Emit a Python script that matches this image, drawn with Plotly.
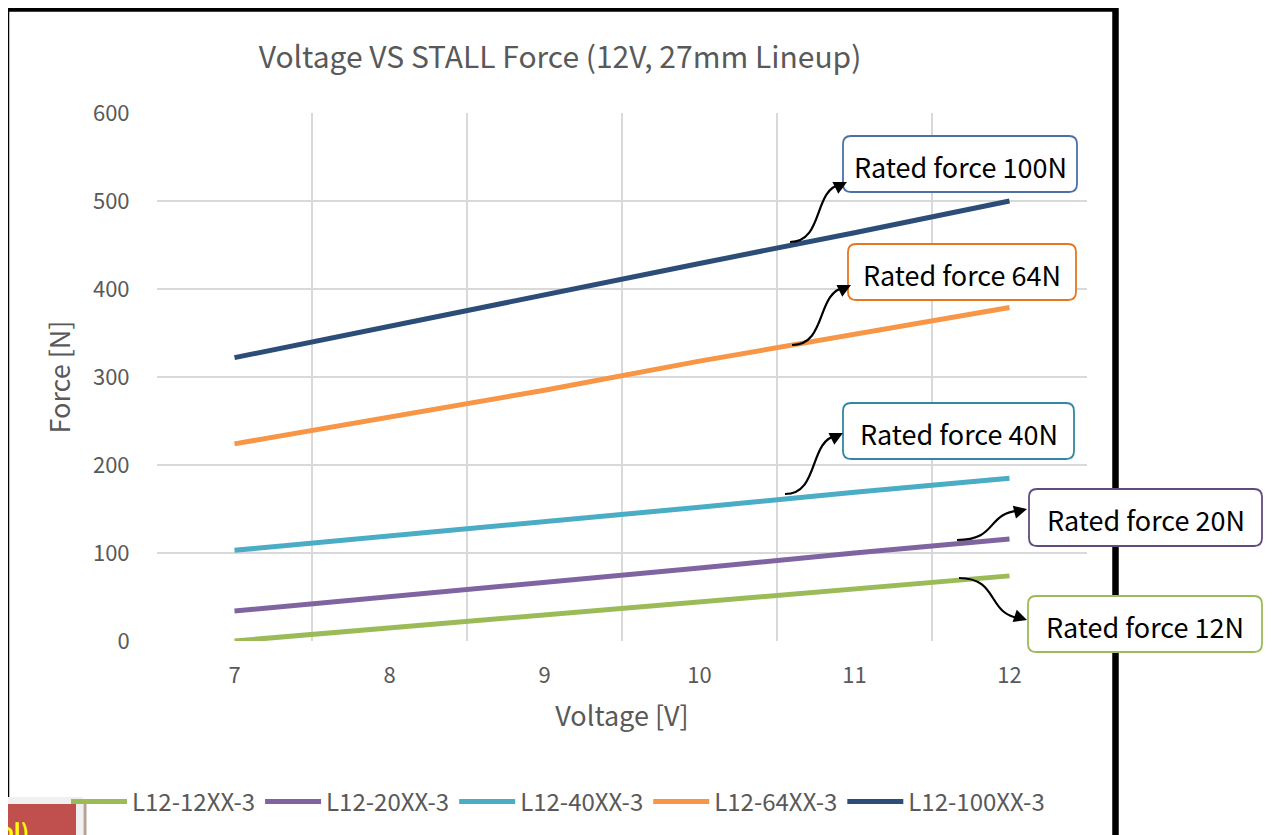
import plotly.graph_objects as go

# ---------------- data ----------------
voltage = [7, 8, 9, 10, 11, 12]
force_12 = [0, 15, 30, 44, 59, 74]
force_20 = [34, 50, 67, 83, 100, 116]
force_40 = [103, 119, 136, 152, 169, 185]
force_64 = [224, 254, 285, 318, 349, 379]
force_100 = [322, 358, 393, 429, 464, 500]

series_names = ["L12-12XX-3", "L12-20XX-3", "L12-40XX-3", "L12-64XX-3", "L12-100XX-3"]
series_values = [force_12, force_20, force_40, force_64, force_100]
series_colors = ["#9BBB59", "#8064A2", "#4BACC6", "#F79646", "#2C4D78"]

rated_labels = ["Rated force 100N", "Rated force 64N", "Rated force 40N", "Rated force 20N", "Rated force 12N"]
rated_colors = ["#4A70A6", "#E8761E", "#31889F", "#5F4B7E", "#9BBB59"]

y_ticks = [0, 100, 200, 300, 400, 500, 600]

FONT = "Noto Sans CJK KR"
GRAY = "#595959"

OFF = 8  # page body margin
W, H = 1272 - OFF, 835 - OFF
# plot area in page pixels
L, R, T, B = 157, 1087, 113, 641


def px(x):
    return (x - L) / (R - L)


def py(y):
    return (B - y) / (B - T)


fig = go.Figure()
for name, vals, col in zip(series_names, series_values, series_colors):
    fig.add_trace(go.Scatter(
        x=voltage, y=vals, name=name, mode="lines",
        line=dict(color=col, width=5), cliponaxis=False,
    ))

shapes = []
annotations = []

# outer black frame
shapes.append(dict(type="rect", xref="paper", yref="paper",
                   x0=px(6), x1=px(1115.5), y0=py(900), y1=py(8.5),
                   line=dict(color="black", width=6.5), layer="above"))

# rated-force boxes (page pixel geometry)
boxes = [
    (843, 136, 1077, 192),
    (848, 244, 1076, 300),
    (843, 403, 1074, 459),
    (1029, 489, 1262, 546),
    (1028, 596, 1262, 652),
]
arrows = [
    ((790, 242), (847, 182)),
    ((792, 345), (851, 285)),
    ((785, 494), (843, 433)),
    ((957, 540), (1027, 509)),
    ((959, 578), (1027, 620)),
]


def rounded_path(x0, y0, x1, y1, r=8):
    pts = [
        ("M", [(x0 + r, y0)]), ("L", [(x1 - r, y0)]), ("Q", [(x1, y0), (x1, y0 + r)]),
        ("L", [(x1, y1 - r)]), ("Q", [(x1, y1), (x1 - r, y1)]),
        ("L", [(x0 + r, y1)]), ("Q", [(x0, y1), (x0, y1 - r)]),
        ("L", [(x0, y0 + r)]), ("Q", [(x0, y0), (x0 + r, y0)]),
    ]
    s = ""
    for cmd, ps in pts:
        s += cmd + " ".join(f"{px(a):.5f},{py(b):.5f}" for a, b in ps) + " "
    return s + "Z"


for (bx0, by0, bx1, by1), col, lab in zip(boxes, rated_colors, rated_labels):
    shapes.append(dict(type="path", xref="paper", yref="paper",
                       path=rounded_path(bx0, by0, bx1, by1),
                       fillcolor="white", line=dict(color=col, width=1.8), layer="above"))
    annotations.append(dict(xref="paper", yref="paper", x=px((bx0 + bx1) / 2), y=py((by0 + by1) / 2 + 2),
                            text=lab, showarrow=False, font=dict(family=FONT, size=27, color="black"),
                            xanchor="center", yanchor="middle"))

for (s, t) in arrows:
    dx, dy = t[0] - s[0], t[1] - s[1]
    p1 = (s[0] + 0.6 * dx, s[1])
    p2 = (t[0] - 0.6 * dx, t[1] - 0.12 * dy)
    end = (t[0] - 6, t[1] - 0.04 * dy)
    path = (f"M{px(s[0]):.5f},{py(s[1]):.5f} C{px(p1[0]):.5f},{py(p1[1]):.5f} "
            f"{px(p2[0]):.5f},{py(p2[1]):.5f} {px(end[0]):.5f},{py(end[1]):.5f}")
    shapes.append(dict(type="path", xref="paper", yref="paper", path=path,
                       line=dict(color="black", width=2.2), layer="above"))
    annotations.append(dict(xref="paper", yref="paper", x=px(t[0]), y=py(t[1]),
                            ax=-12, ay=int(-0.1 * dy) if dy < 0 else -int(0.1 * dy), text="",
                            showarrow=True, arrowhead=2, arrowsize=1.3, arrowwidth=2,
                            arrowcolor="black", standoff=0))

# bottom-left partial object
shapes.append(dict(type="rect", xref="paper", yref="paper", x0=px(-5), x1=px(83), y0=py(900), y1=py(797),
                   fillcolor="#F0F0F0", line=dict(width=0), layer="above"))
shapes.append(dict(type="rect", xref="paper", yref="paper", x0=px(-5), x1=px(76), y0=py(900), y1=py(804),
                   fillcolor="#C0504D", line=dict(width=0), layer="above"))
shapes.append(dict(type="line", xref="paper", yref="paper", x0=px(85), x1=px(85), y0=py(900), y1=py(801),
                   line=dict(color="rgba(130,80,70,0.55)", width=3), layer="above"))
annotations.append(dict(xref="paper", yref="paper", x=px(30), y=py(813), xanchor="right", yanchor="top",
                        text="<b>ol)</b>", showarrow=False, borderpad=0,
                        font=dict(family=FONT, size=22, color="#FFFF00")))

fig.update_layout(
    width=W, height=H,
    margin=dict(l=L - OFF, r=1272 - R, t=T - OFF, b=835 - B, autoexpand=False),
    paper_bgcolor="white", plot_bgcolor="white",
    font=dict(family=FONT, color=GRAY),
    title=dict(text="Voltage VS STALL Force (12V, 27mm Lineup)", x=(560 - OFF) / W, xanchor="center",
               xref="container", y=1 - (57 - OFF) / H, yanchor="middle", yref="container",
               font=dict(family=FONT, size=30, color=GRAY)),
    showlegend=True,
    legend=dict(orientation="h", x=px(66), y=py(802), xanchor="left", yanchor="middle",
                xref="paper", yref="paper", font=dict(family=FONT, size=24, color=GRAY),
                itemwidth=56, bgcolor="rgba(0,0,0,0)", traceorder="normal"),
    shapes=shapes, annotations=annotations,
)

fig.update_xaxes(
    range=[6.5, 12.5], tickvals=voltage, ticktext=[str(v) for v in voltage],
    showgrid=False, zeroline=False, showline=False,
    ticks="outside", ticklen=15, tickcolor="rgba(0,0,0,0)",
    tickfont=dict(family=FONT, size=22, color=GRAY),
    minor=dict(tickvals=[6.5, 7.5, 8.5, 9.5, 10.5, 11.5, 12.5], showgrid=True,
               gridcolor="#D9D9D9", gridwidth=1.5, ticks=""),
    title=dict(text="Voltage [V]", font=dict(family=FONT, size=27, color=GRAY), standoff=18),
    automargin=False,
)
fig.update_yaxes(
    range=[0, 600], tickvals=y_ticks, showgrid=True, gridcolor="#D9D9D9", gridwidth=1.5,
    zeroline=False, showline=False,
    ticks="outside", ticklen=22, tickcolor="rgba(0,0,0,0)",
    tickfont=dict(family=FONT, size=22, color=GRAY),
    title=dict(text="Force [N]", font=dict(family=FONT, size=27, color=GRAY), standoff=14),
    automargin=False,
)

fig.write_html("out.html")
